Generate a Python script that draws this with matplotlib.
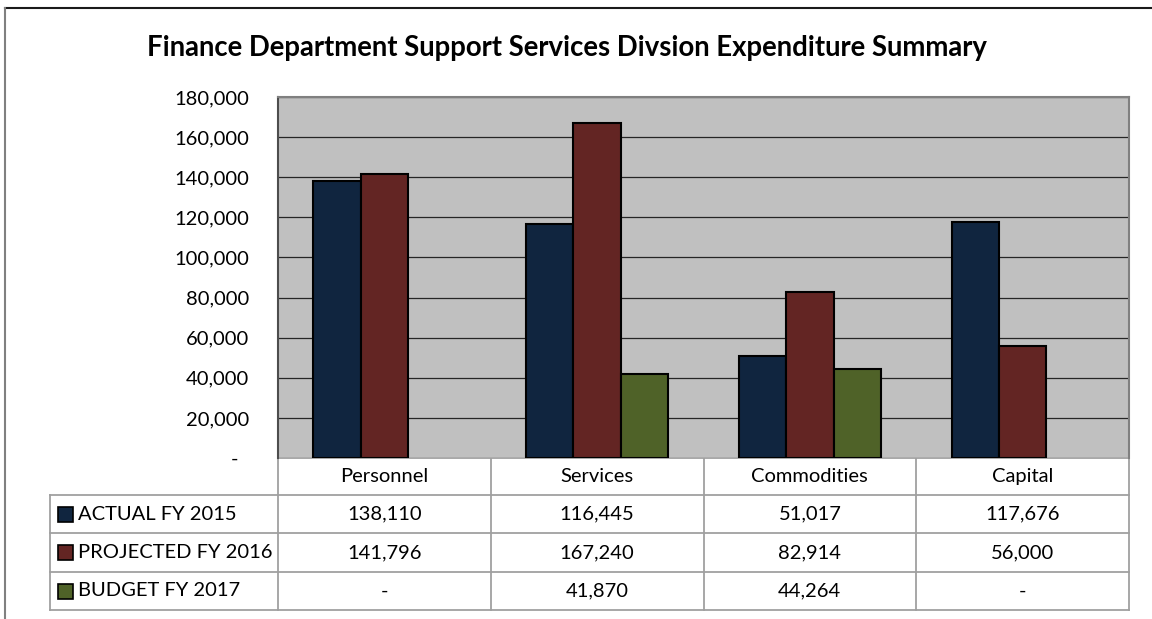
import numpy as np
import matplotlib.pyplot as plt
from matplotlib.patches import Rectangle
from matplotlib.ticker import FuncFormatter

categories = ["Personnel", "Services", "Commodities", "Capital"]
series_names = ["ACTUAL FY 2015", "PROJECTED FY 2016", "BUDGET FY 2017"]
actual_2015 = [138110, 116445, 51017, 117676]
projected_2016 = [141796, 167240, 82914, 56000]
budget_2017 = [0, 41870, 44264, 0]
series_colors = ["#10253f", "#632523", "#4f6228"]
y_ticks = np.arange(0, 180001, 20000)
title = "Finance Department Support Services Divsion Expenditure Summary"

plt.rcParams['font.family'] = ['Lato', 'DejaVu Sans']

W, H = 1152, 619
fig = plt.figure(figsize=(W / 100, H / 100), dpi=100)

# pixel layout: plot area on top, data table underneath
px_left, px_right, px_top, px_bottom = 278, 1129, 97, 458
row_edges = [458, 495, 533, 572, 610]
label_left = 50
fs = 14.5

ax = fig.add_axes([px_left / W, 1 - px_bottom / H,
                   (px_right - px_left) / W, (px_bottom - px_top) / H])
ax.set_facecolor("#c0c0c0")

x = np.arange(len(categories))
series = [actual_2015, projected_2016, budget_2017]
width = 1 / (len(series) + 1.5)
for i, (vals, color) in enumerate(zip(series, series_colors)):
    vals = np.array(vals)
    keep = vals > 0
    ax.bar(x[keep] + (i - 1) * width, vals[keep], width, color=color,
           edgecolor="black", linewidth=1.5, zorder=3)

ax.set_xlim(-0.5, len(categories) - 0.5)
ax.set_ylim(0, 180000)
ax.set_yticks(y_ticks)
ax.yaxis.set_major_formatter(
    FuncFormatter(lambda v, p: "-  " if v == 0 else f"{v:,.0f}"))
ax.set_xticks([])
ax.tick_params(axis="y", length=0, pad=21, labelsize=fs)
ax.grid(axis="y", color="#262626", lw=0.9, zorder=1)
ax.set_axisbelow(True)
for s in ["top", "right"]:
    ax.spines[s].set_color("#808080")
    ax.spines[s].set_linewidth(1.5)
ax.spines["left"].set_color("#4d4d4d")
ax.spines["left"].set_linewidth(1.5)
ax.spines["bottom"].set_visible(False)

# overlay in pixel coordinates for title, frame and the data table
tab = fig.add_axes([0, 0, 1, 1], zorder=-1)
tab.set_xlim(0, W)
tab.set_ylim(H, 0)
tab.axis("off")

tab.plot([5, W], [8, 8], color="#1a1a1a", lw=1.5)
tab.plot([5, 5], [8, H], color="#808080", lw=1.5)

tab.text(567, 48, title, ha="center", va="center", fontsize=19.8,
         fontweight="bold")

col_edges = np.linspace(px_left, px_right, len(categories) + 1)
col_mid = (col_edges[:-1] + col_edges[1:]) / 2
row_mid = [(a + b) / 2 for a, b in zip(row_edges[:-1], row_edges[1:])]
line_kw = dict(color="#a0a0a0", lw=1.3, solid_capstyle="projecting")

tab.plot([px_left, px_right], [row_edges[0]] * 2, **line_kw)
for y in row_edges[1:]:
    tab.plot([label_left, px_right], [y, y], **line_kw)
tab.plot([label_left] * 2, [row_edges[1], row_edges[-1]], **line_kw)
for xe in col_edges:
    tab.plot([xe, xe], [row_edges[0], row_edges[-1]], **line_kw)

for cx, cat in zip(col_mid, categories):
    tab.text(cx, row_mid[0], cat, ha="center", va="center", fontsize=fs)

for r, (name, vals, color) in enumerate(zip(series_names, series, series_colors)):
    ym = row_mid[r + 1]
    tab.add_patch(Rectangle((58, ym - 7.5), 15, 15, facecolor=color,
                            edgecolor="black", lw=1.2))
    tab.text(78, ym, name, ha="left", va="center", fontsize=fs)
    for cx, v in zip(col_mid, vals):
        tab.text(cx, ym, f"{v:,}" if v else "-", ha="center", va="center",
                 fontsize=fs)

fig.savefig("out.png", dpi=100)
